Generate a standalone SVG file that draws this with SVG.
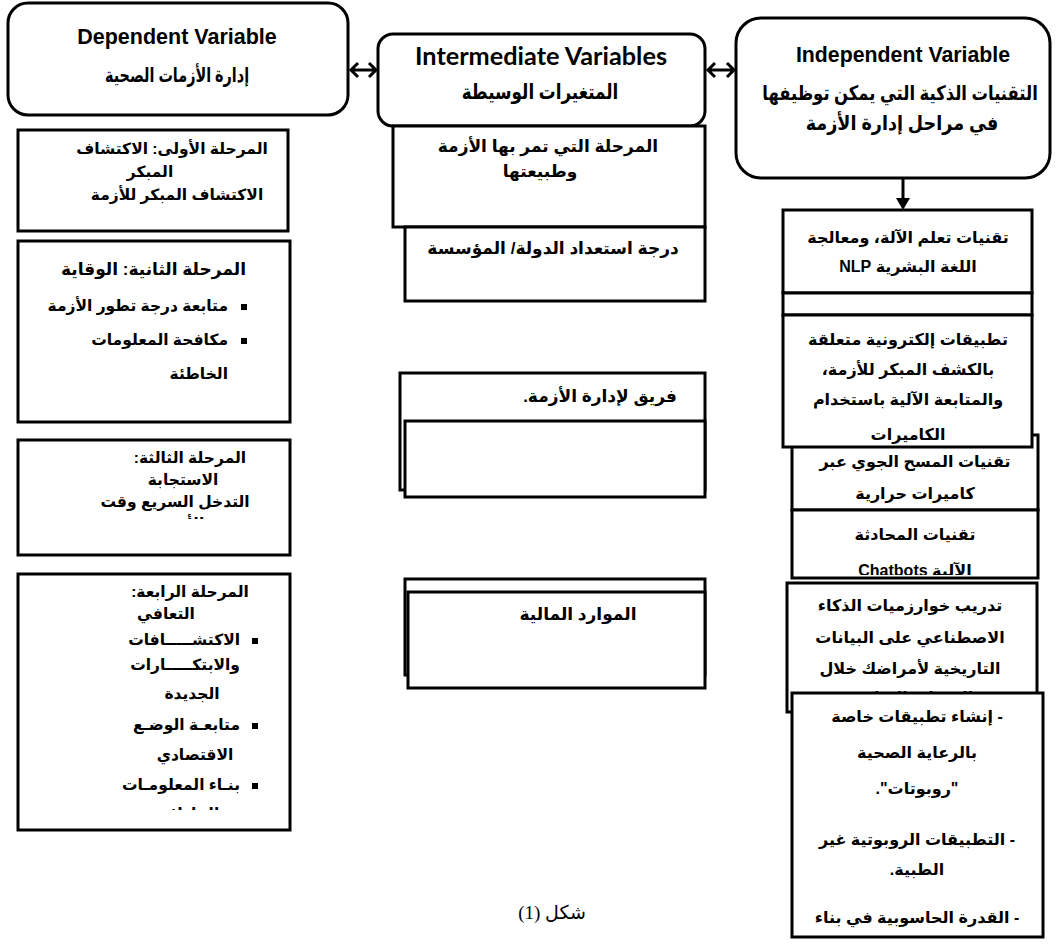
<svg xmlns="http://www.w3.org/2000/svg" width="1059" height="946" viewBox="0 0 1059 946">
<style>
.bx{fill:#fff;stroke:#000;stroke-width:3}
.ln{fill:none;stroke:#000;stroke-width:3}
.ar{font-family:"Liberation Sans","DejaVu Sans",sans-serif;font-weight:bold;direction:rtl;text-anchor:middle;fill:#000}
.rt{text-anchor:start}
.en{font-family:"Liberation Sans",Arial,sans-serif;font-weight:bold;text-anchor:middle;fill:#000}
.s15{font-size:15.5px}
.s16{font-size:16px}
.s17{font-size:17px}
.s20{font-size:20px}
</style>
<defs>
<clipPath id="cL3"><rect x="18" y="440" width="272" height="79"/></clipPath>
<clipPath id="cL4"><rect x="18" y="574" width="272" height="236"/></clipPath>
<clipPath id="cR2"><rect x="783" y="315" width="249" height="130"/></clipPath>
<clipPath id="cR4"><rect x="792" y="510" width="246" height="65"/></clipPath>
</defs>

<g id="connectors">
<path class="ln" d="M351,70 H376 M358,63 L351,70 L358,77 M369,63 L376,70 L369,77"/>
<path class="ln" d="M708,70 H734 M715,63 L708,70 L715,77 M727,63 L734,70 L727,77"/>
<path class="ln" d="M903,179 V199"/>
<path d="M896,198 H910 L903,210 Z" fill="#000"/>
</g>

<g id="dependent">
<rect class="bx" x="8" y="3" width="340" height="112" rx="20"/>
<text class="en" x="177" y="44" font-size="21.5">Dependent Variable</text>
<text class="ar s20" transform="translate(177,82) scale(0.72,1)">إدارة الأزمات الصحية</text>
</g>

<g id="intermediate">
<rect class="bx" x="378" y="34" width="327" height="92" rx="15"/>
<text x="541" y="65" font-family="Lato,'Open Sans',sans-serif" font-weight="bold" font-size="24" text-anchor="middle" textLength="252" lengthAdjust="spacingAndGlyphs">Intermediate Variables</text>
<text class="ar" font-size="21" transform="translate(540,99) scale(0.8,1)">المتغيرات الوسيطة</text>
</g>

<g id="independent">
<rect class="bx" x="736" y="18" width="314" height="160" rx="25"/>
<text class="en" x="903" y="62" font-size="21.3">Independent Variable</text>
<text class="ar s20" transform="translate(900,100) scale(0.82,1)">التقنيات الذكية التي يمكن توظيفها</text>
<text class="ar s20" transform="translate(902,130) scale(0.88,1)">في مراحل إدارة الأزمة</text>
</g>

<g id="phase1">
<rect class="bx" x="18" y="130" width="270" height="101"/>
<text class="ar s15" x="172" y="154">المرحلة الأولى: الاكتشاف</text>
<text class="ar s15" x="150" y="177">المبكر</text>
<text class="ar s15" x="177" y="200">الاكتشاف المبكر للأزمة</text>
</g>

<g id="phase2">
<rect class="bx" x="18" y="241" width="272" height="181"/>
<text class="ar s17 rt" x="246" y="275">المرحلة الثانية: الوقاية</text>
<rect x="241" y="304" width="6" height="6"/>
<text class="ar s15 rt" x="228" y="311">متابعة درجة تطور الأزمة</text>
<rect x="241" y="338" width="6" height="6"/>
<text class="ar s15 rt" x="228" y="345">مكافحة المعلومات</text>
<text class="ar s15 rt" x="228" y="379">الخاطئة</text>
</g>

<g id="phase3">
<rect class="bx" x="18" y="440" width="272" height="115"/>
<g clip-path="url(#cL3)">
<text class="ar s15" x="190" y="463">المرحلة الثالثة:</text>
<text class="ar s15" x="183" y="485">الاستجابة</text>
<text class="ar s15" x="175" y="507">التدخل السريع وقت</text>
<text class="ar s15" x="182" y="529">الأزمة</text>
</g>
</g>

<g id="phase4">
<rect class="bx" x="18" y="574" width="272" height="256"/>
<g clip-path="url(#cL4)">
<text class="ar s15" x="190" y="597">المرحلة الرابعة:</text>
<text class="ar s15" x="166" y="619">التعافي</text>
<rect x="252" y="638" width="6" height="6"/>
<text class="ar s15 rt" x="240" y="645">الاكتشـــــافات</text>
<text class="ar s15 rt" x="240" y="670">والابتكـــــارات</text>
<text class="ar s15" x="192" y="699">الجديدة</text>
<rect x="252" y="723" width="6" height="6"/>
<text class="ar s15 rt" x="240" y="730">متابعـة الوضـع</text>
<text class="ar s15" x="195" y="760">الاقتصادي</text>
<rect x="252" y="783" width="6" height="6"/>
<text class="ar s15 rt" x="240" y="790">بنـاء المعلومـات</text>
<text class="ar s15" x="190" y="819">الخاطئة</text>
</g>
</g>

<g id="stage">
<rect class="bx" x="393" y="126" width="312" height="101"/>
<text class="ar s17" x="548" y="152">المرحلة التي تمر بها الأزمة</text>
<text class="ar s17" x="540" y="177">وطبيعتها</text>
</g>

<g id="readiness">
<rect class="bx" x="405" y="227" width="300" height="74"/>
<text class="ar s17" x="553" y="254">درجة استعداد الدولة/ المؤسسة</text>
</g>

<g id="team">
<rect class="bx" x="400" y="373" width="305" height="117"/>
<rect class="bx" x="405" y="421" width="300" height="76"/>
<text class="ar s17" x="600" y="402">فريق لإدارة الأزمة.</text>
</g>

<g id="finance">
<rect class="bx" x="405" y="579" width="300" height="96"/>
<rect class="bx" x="408" y="592" width="297" height="96"/>
<text class="ar s17" x="578" y="620">الموارد المالية</text>
</g>

<g id="ml">
<rect class="bx" x="783" y="210" width="249" height="83"/>
<text class="ar s16" x="908" y="243">تقنيات تعلم الآلة، ومعالجة</text>
<text class="ar s16" x="908" y="272">اللغة البشرية NLP</text>
<rect class="bx" x="783" y="293" width="249" height="22"/>
</g>

<g id="aerial">
<rect class="bx" x="792" y="435" width="246" height="75"/>
<text class="ar s16" x="915" y="467">تقنيات المسح الجوي عبر</text>
<text class="ar s16" x="915" y="499">كاميرات حرارية</text>
</g>

<g id="apps">
<rect class="bx" x="783" y="315" width="249" height="132"/>
<g clip-path="url(#cR2)">
<text class="ar s16" x="908" y="345">تطبيقات إلكترونية متعلقة</text>
<text class="ar s16" x="908" y="375">بالكشف المبكر للأزمة،</text>
<text class="ar s16" x="908" y="405">والمتابعة الآلية باستخدام</text>
<text class="ar s16" x="908" y="440">الكاميرات</text>
</g>
</g>

<g id="chatbots">
<rect class="bx" x="792" y="510" width="246" height="68"/>
<g clip-path="url(#cR4)">
<text class="ar s16" x="915" y="540">تقنيات المحادثة</text>
<text class="ar s16" x="915" y="576">الآلية Chatbots</text>
</g>
</g>

<g id="training">
<rect class="bx" x="787" y="583" width="250" height="129"/>
<text class="ar s16" x="910" y="611">تدريب خوارزميات الذكاء</text>
<text class="ar s16" x="910" y="643">الاصطناعي على البيانات</text>
<text class="ar s16" x="910" y="674">التاريخية لأمراضك خلال</text>
<text class="ar s16" x="910" y="703">الفترات السابقة</text>
</g>

<g id="robots">
<rect class="bx" x="792" y="693" width="251" height="244"/>
<text class="ar s16" x="917" y="722">- إنشاء تطبيقات خاصة</text>
<text class="ar s16" x="917" y="758">بالرعاية الصحية</text>
<text class="ar s16" x="917" y="794">"روبوتات".</text>
<text class="ar s16" x="917" y="845">- التطبيقات الروبوتية غير</text>
<text class="ar s16" x="917" y="875">الطبية.</text>
<text class="ar s16" x="917" y="923">- القدرة الحاسوبية في بناء</text>
</g>

<text x="552" y="919" font-family="'Liberation Serif','DejaVu Sans',serif" font-size="19" direction="rtl" text-anchor="middle">شكل (1)</text>
</svg>
